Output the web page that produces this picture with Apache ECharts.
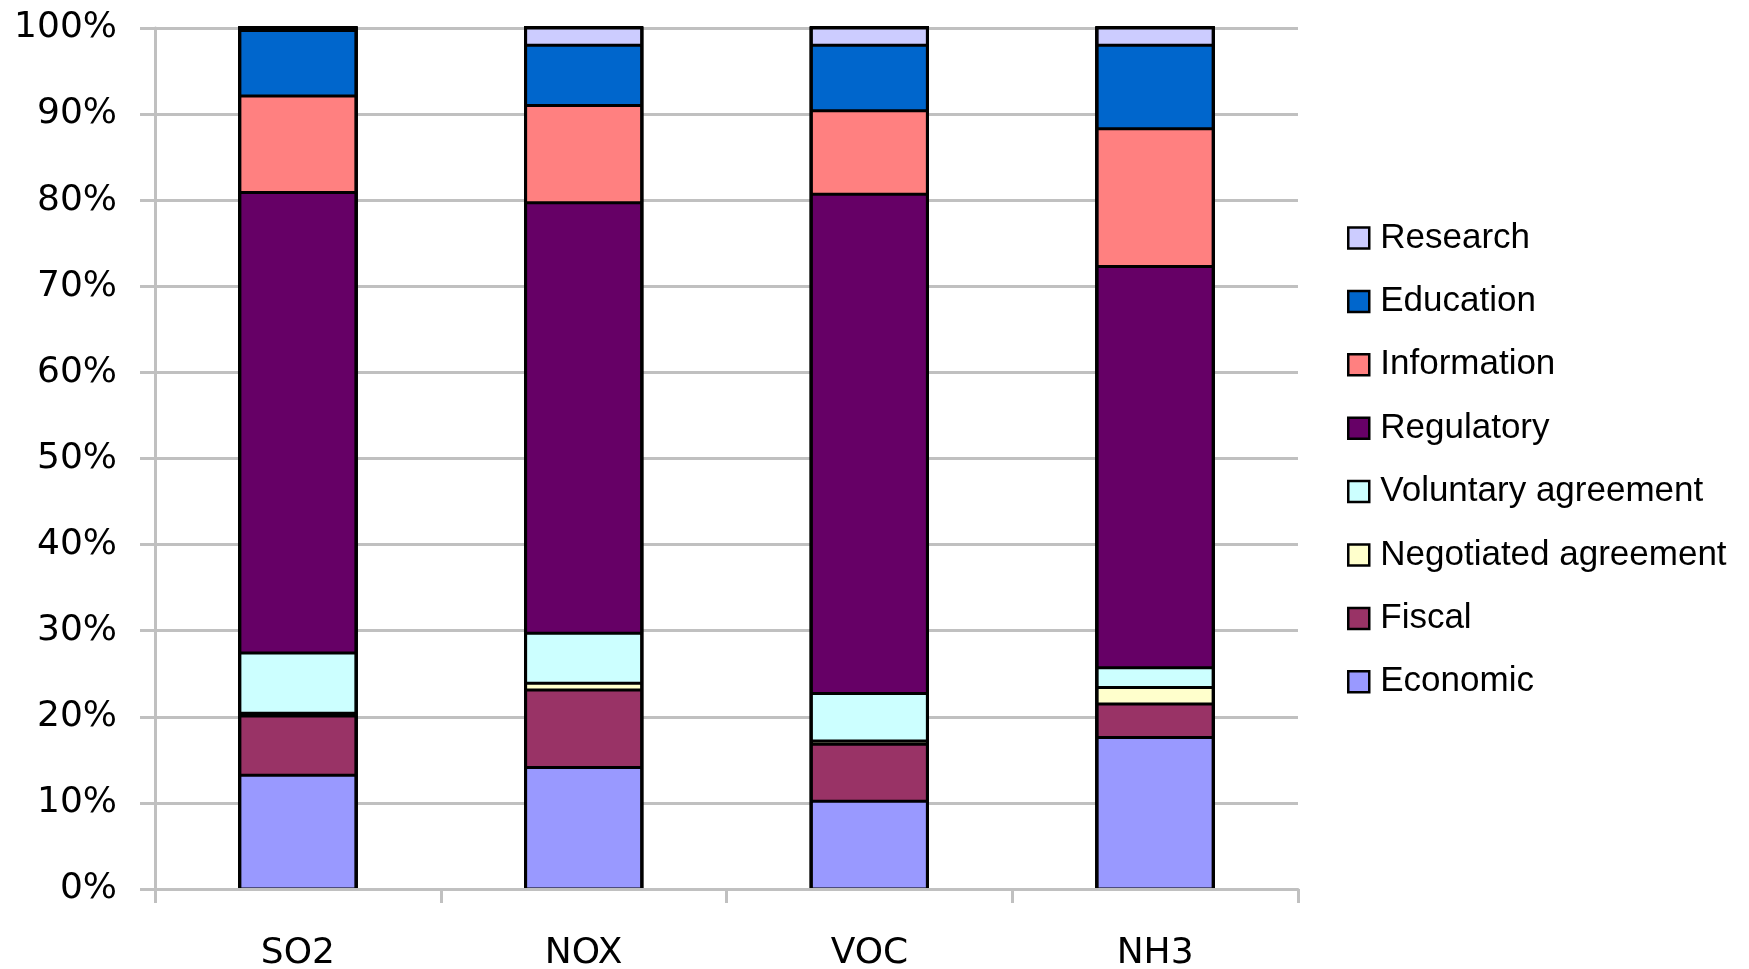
<!DOCTYPE html>
<html>
<head>
<meta charset="utf-8">
<script src="https://cdn.jsdelivr.net/npm/echarts@6/dist/echarts.min.js"></script>
<style>
  html, body { margin: 0; padding: 0; background: #fff; }
  #chart { width: 1749px; height: 969px; }
</style>
</head>
<body>
<div id="chart"></div>
<script>
// categories along the x axis
const categories = ['SO2', 'NOX', 'VOC', 'NH3']

// share of each instrument type, in percent (bottom to top)
const economic = [13.2, 14.1, 10.2, 17.6]
const fiscal = [6.9, 9.0, 6.6, 3.9]
const negotiated = [0.3, 0.8, 0.4, 1.9]
const voluntary = [7.0, 5.8, 5.5, 2.3]
const regulatory = [53.5, 50.0, 58.0, 46.6]
const information = [11.2, 11.3, 9.7, 16.0]
const education = [7.6, 7.0, 7.6, 9.7]
const research = [0.3, 2.0, 2.0, 2.0]

const seriesDefs = [
  { name: 'Economic', data: economic, color: '#9999ff' },
  { name: 'Fiscal', data: fiscal, color: '#993366' },
  { name: 'Negotiated agreement', data: negotiated, color: '#ffffcc' },
  { name: 'Voluntary agreement', data: voluntary, color: '#ccffff' },
  { name: 'Regulatory', data: regulatory, color: '#660066' },
  { name: 'Information', data: information, color: '#ff8080' },
  { name: 'Education', data: education, color: '#0066cc' },
  { name: 'Research', data: research, color: '#ccccff' }
]

const gridGrey = '#c0c0c0'
const axisFont = 'DejaVu Sans'

const chart = echarts.init(document.getElementById('chart'))

chart.setOption({
  animation: false,
  backgroundColor: '#fff',
  grid: { left: 155, right: 451, top: 28, bottom: 80, containLabel: false, outerBoundsMode: 'none' },
  legend: {
    orient: 'vertical',
    left: 1342,
    top: 213,
    itemWidth: 21,
    itemHeight: 21,
    itemGap: 23.4,
    icon: 'rect',
    selectedMode: false,
    data: seriesDefs.map(s => s.name).reverse(),
    itemStyle: { borderColor: '#000', borderWidth: 2.5 },
    textStyle: { fontFamily: 'Liberation Sans', fontSize: 35, color: '#000', lineHeight: 40, padding: [0, 0, 0, 6] }
  },
  xAxis: {
    type: 'category',
    data: categories,
    z: 5,
    axisLine: { lineStyle: { color: gridGrey, width: 3 } },
    axisTick: { show: true, length: 14, lineStyle: { color: gridGrey, width: 3 } },
    axisLabel: { fontFamily: axisFont, fontSize: 36, color: '#000', margin: 47 },
    splitLine: { show: false }
  },
  yAxis: {
    type: 'value',
    min: 0,
    max: 100,
    interval: 10,
    axisLine: { show: true, lineStyle: { color: gridGrey, width: 3 } },
    axisTick: { show: true, length: 15, lineStyle: { color: gridGrey, width: 3 } },
    axisLabel: { fontFamily: axisFont, fontSize: 36, color: '#000', margin: 38, formatter: '{value}%' },
    splitLine: { lineStyle: { color: gridGrey, width: 3 } }
  },
  // black column behind each stack closes the seams between segments
  series: seriesDefs.map(s => ({
    name: s.name,
    type: 'bar',
    stack: 'total',
    barWidth: 116,
    data: s.data,
    showBackground: true,
    backgroundStyle: { color: '#000', borderColor: '#000', borderWidth: 3 },
    itemStyle: { color: s.color, borderColor: '#000', borderWidth: 1.5 }
  }))
})
</script>
</body>
</html>
